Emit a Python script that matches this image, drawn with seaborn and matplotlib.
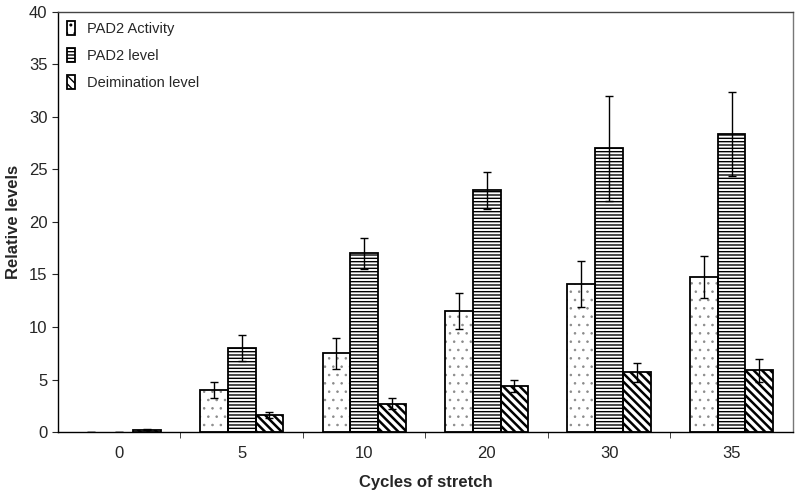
import numpy as np
import pandas as pd
import matplotlib
matplotlib.use("Agg")
import matplotlib.pyplot as plt
import seaborn as sns
from matplotlib.patches import Patch, Rectangle

# Data
cycles = ['0', '5', '10', '20', '30', '35']
series = ['PAD2 Activity', 'PAD2 level', 'Deimination level']
activity = [0.0, 4.0, 7.5, 11.5, 14.1, 14.8]
activity_err = [0.0, 0.8, 1.5, 1.7, 2.2, 2.0]
pad2_level = [0.0, 8.0, 17.0, 23.0, 27.0, 28.4]
pad2_level_err = [0.0, 1.2, 1.5, 1.8, 5.0, 4.0]
deimination = [0.2, 1.6, 2.7, 4.4, 5.7, 5.9]
deimination_err = [0.05, 0.3, 0.5, 0.6, 0.9, 1.1]

values = [activity, pad2_level, deimination]
errors = [activity_err, pad2_level_err, deimination_err]
hatches = ['..', '-----', '\\\\\\\\']
hatch_colors = ['#8a8a8a', 'black', 'black']
hatch_widths = [0.6, 1.0, 1.8]

df = pd.DataFrame({
    'Cycles': cycles * 3,
    'Series': np.repeat(series, len(cycles)),
    'Value': activity + pad2_level + deimination,
})

sns.set_style('white')
plt.rcParams['font.family'] = ['Liberation Sans', 'DejaVu Sans']

fig = plt.figure(figsize=(8, 4.98), dpi=100)
ax = fig.add_axes([0.0725, 0.1325, 0.9185, 0.8435])

sns.barplot(data=df, x='Cycles', y='Value', hue='Series', order=cycles,
            hue_order=series, palette=['white'] * 3, width=0.68,
            edgecolor='black', linewidth=0, errorbar=None, ax=ax, legend=False)


def style_patch(p, i):
    p.set_hatch(hatches[i])
    p.set_edgecolor(hatch_colors[i])
    p.set_linewidth(0)
    if hasattr(p, 'set_hatch_linewidth'):
        p.set_hatch_linewidth(hatch_widths[i])


for i, s in enumerate(series):
    bars = ax.containers[i]
    for j, p in enumerate(bars.patches):
        style_patch(p, i)
        # black outline drawn over the hatched bar (skip empty bars)
        if p.get_height() > 0:
            ax.add_patch(Rectangle((p.get_x(), p.get_y()), p.get_width(), p.get_height(),
                                   facecolor='none', edgecolor='black', linewidth=1.3,
                                   zorder=p.get_zorder() + 0.1))
        x = p.get_x() + p.get_width() / 2
        ax.errorbar(x, values[i][j], yerr=errors[i][j], color='black',
                    capsize=3, elinewidth=1, capthick=1, zorder=5)

handles = []
for i, s in enumerate(series):
    h = Patch(facecolor='white', edgecolor='black', hatch=hatches[i], linewidth=1.3, label=s)
    if hasattr(h, 'set_hatch_linewidth'):
        h.set_hatch_linewidth(hatch_widths[i])
    handles.append(h)
ax.legend(handles=handles, loc='upper left', bbox_to_anchor=(0, 1), frameon=False,
          fontsize=10.5, handlelength=0.55, handleheight=1.1, handletextpad=0.8,
          labelspacing=0.8, borderaxespad=0, borderpad=0.65)

ax.set_ylim(0, 40)
ax.set_xlim(-0.5, 5.5)
ax.set_yticks(range(0, 41, 5))
ax.set_xticks(np.arange(0.5, 5.5, 1), minor=True)
ax.tick_params(axis='x', which='major', length=0, labelsize=12, pad=10)
ax.tick_params(axis='x', which='minor', length=4, direction='out', bottom=True)
ax.tick_params(axis='y', length=4, direction='out', left=True, labelsize=12)
for sp in ax.spines.values():
    sp.set_color('black')
    sp.set_linewidth(1.0)
ax.spines['right'].set_color('#777777')
ax.spines['top'].set_color('#444444')

ax.set_xlabel('Cycles of stretch', fontsize=12, fontweight='bold', labelpad=10)
ax.set_ylabel('Relative levels', fontsize=12, fontweight='bold', labelpad=6)

fig.savefig('out.png', dpi=100)
